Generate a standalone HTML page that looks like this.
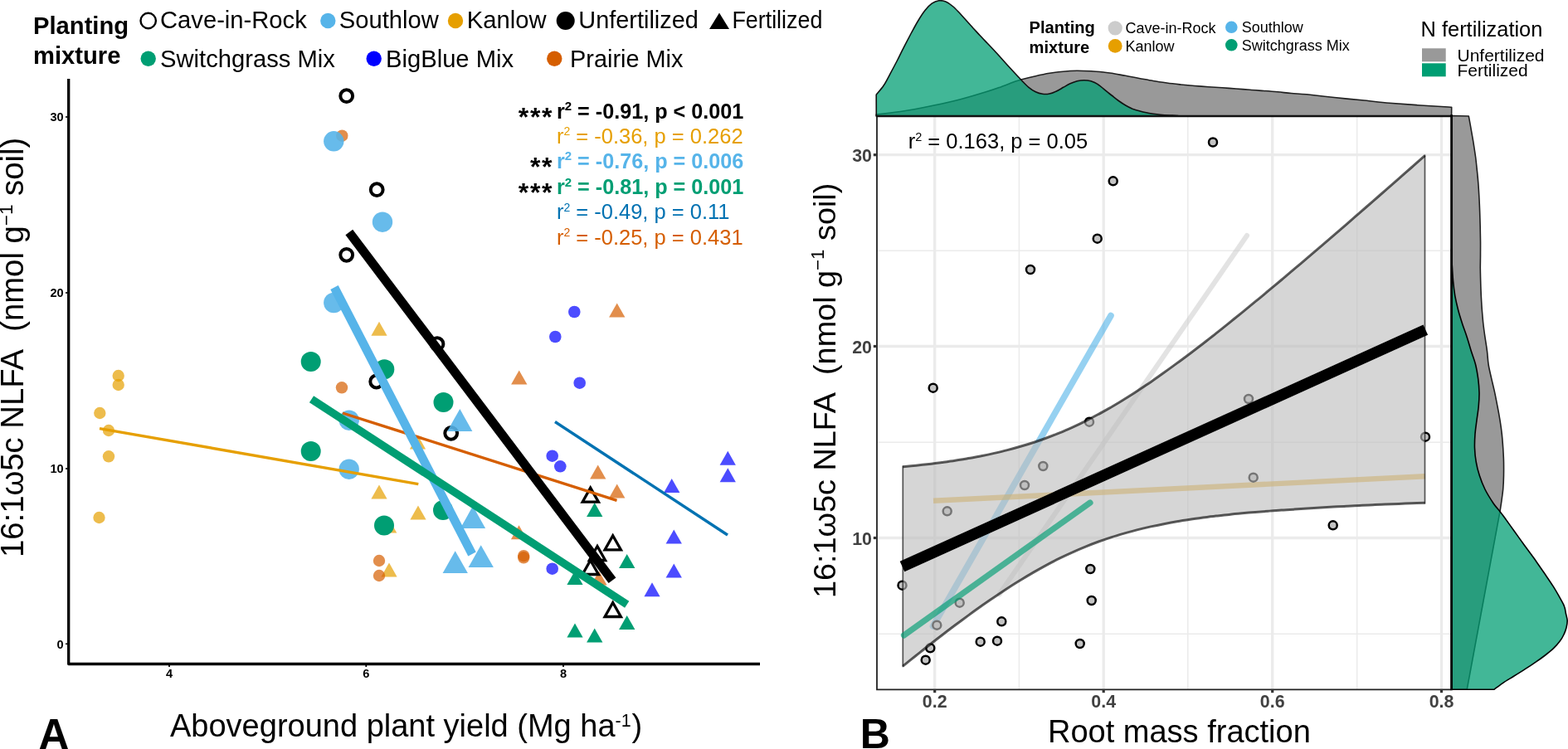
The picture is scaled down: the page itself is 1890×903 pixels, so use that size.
<!DOCTYPE html>
<html lang="en"><head><meta charset="utf-8"><title>Figure</title>
<style>html,body{margin:0;padding:0;background:#fff}svg{display:block}text{font-family:"Liberation Sans",sans-serif}</style>
</head><body>
<svg width="1890" height="903" viewBox="0 0 1890 903" role="img" aria-label="Scatter plots of 16:1ω5c NLFA against aboveground plant yield and root mass fraction">
<rect width="1890" height="903" fill="#fff"/>
<g id="panelA">
<text x="40" y="40.8" font-size="29.2" font-weight="bold">Planting</text>
<text x="40" y="76.6" font-size="29.2" font-weight="bold">mixture</text>
<circle cx="178.7" cy="25.0" r="9.2" fill="none" stroke="#000" stroke-width="2.4"/>
<text x="193" y="34" font-size="29.2">Cave-in-Rock</text>
<circle cx="395.3" cy="25.0" r="9.2" fill="#56B4E9"/>
<text x="408.8" y="34" font-size="29.2">Southlow</text>
<circle cx="549.0" cy="25.0" r="9.2" fill="#E69F00"/>
<text x="562.8" y="34" font-size="29.2">Kanlow</text>
<circle cx="681.7" cy="25.0" r="11" fill="#000"/>
<text x="697.3" y="34" font-size="28.9">Unfertilized</text>
<polygon points="855,35 867,15.5 879,35" fill="#000"/>
<text x="882.4" y="34" font-size="29" textLength="109" lengthAdjust="spacingAndGlyphs">Fertilized</text>
<circle cx="178.7" cy="70.7" r="9.2" fill="#009E73"/>
<text x="193" y="80.7" font-size="29.2">Switchgrass Mix</text>
<circle cx="450.7" cy="70.7" r="9.2" fill="#0000FF"/>
<text x="465" y="80.7" font-size="29.2">BigBlue Mix</text>
<circle cx="668.3" cy="70.7" r="9.2" fill="#D55E00"/>
<text x="687" y="80.7" font-size="28.9">Prairie Mix</text>
<circle cx="142.7" cy="453.0" r="7.2" fill="#E69F00" fill-opacity="0.7"/>
<circle cx="142.7" cy="464.0" r="7.2" fill="#E69F00" fill-opacity="0.7"/>
<circle cx="120.3" cy="498.0" r="7.2" fill="#E69F00" fill-opacity="0.7"/>
<circle cx="131.0" cy="519.0" r="7.2" fill="#E69F00" fill-opacity="0.7"/>
<circle cx="131.0" cy="550.3" r="7.2" fill="#E69F00" fill-opacity="0.7"/>
<circle cx="119.5" cy="624.0" r="7.2" fill="#E69F00" fill-opacity="0.7"/>
<polygon points="447.4,404.7 457.0,387.7 466.6,404.7" fill="#E69F00" fill-opacity="0.7"/>
<polygon points="493.9,541.5 503.5,524.5 513.1,541.5" fill="#E69F00" fill-opacity="0.7"/>
<polygon points="447.4,601.5 457.0,584.5 466.6,601.5" fill="#E69F00" fill-opacity="0.7"/>
<polygon points="494.4,626.5 504.0,609.5 513.6,626.5" fill="#E69F00" fill-opacity="0.7"/>
<polygon points="459.1,642.5 468.7,625.5 478.3,642.5" fill="#E69F00" fill-opacity="0.7"/>
<polygon points="459.4,695.5 469.0,678.5 478.6,695.5" fill="#E69F00" fill-opacity="0.7"/>
<circle cx="412.3" cy="163.7" r="7.2" fill="#D55E00" fill-opacity="0.7"/>
<circle cx="412.0" cy="467.3" r="7.2" fill="#D55E00" fill-opacity="0.7"/>
<circle cx="457.0" cy="676.0" r="7.2" fill="#D55E00" fill-opacity="0.7"/>
<circle cx="457.0" cy="694.0" r="7.2" fill="#D55E00" fill-opacity="0.7"/>
<circle cx="631.2" cy="670.1" r="7.2" fill="#D55E00" fill-opacity="0.7"/>
<circle cx="631.2" cy="672.3" r="7.2" fill="#D55E00" fill-opacity="0.7"/>
<polygon points="734.1,382.4 743.7,365.4 753.4,382.4" fill="#D55E00" fill-opacity="0.7"/>
<polygon points="616.1,463.4 625.7,446.4 635.4,463.4" fill="#D55E00" fill-opacity="0.7"/>
<polygon points="711.1,577.5 720.7,560.5 730.4,577.5" fill="#D55E00" fill-opacity="0.7"/>
<polygon points="734.1,600.5 743.7,583.5 753.4,600.5" fill="#D55E00" fill-opacity="0.7"/>
<polygon points="615.9,650.2 625.5,633.2 635.1,650.2" fill="#D55E00" fill-opacity="0.7"/>
<polygon points="712.4,705.5 722.0,688.5 731.6,705.5" fill="#D55E00" fill-opacity="0.7"/>
<circle cx="692.3" cy="376.0" r="7.3" fill="#0000FF" fill-opacity="0.7"/>
<circle cx="669.3" cy="406.0" r="7.3" fill="#0000FF" fill-opacity="0.7"/>
<circle cx="698.7" cy="461.7" r="7.3" fill="#0000FF" fill-opacity="0.7"/>
<circle cx="665.7" cy="549.7" r="7.3" fill="#0000FF" fill-opacity="0.7"/>
<circle cx="675.3" cy="562.3" r="7.3" fill="#0000FF" fill-opacity="0.7"/>
<circle cx="665.7" cy="685.7" r="7.3" fill="#0000FF" fill-opacity="0.7"/>
<polygon points="867.6,560.8 877.3,543.8 886.9,560.8" fill="#0000FF" fill-opacity="0.7"/>
<polygon points="867.6,581.2 877.3,564.2 886.9,581.2" fill="#0000FF" fill-opacity="0.7"/>
<polygon points="800.1,594.0 809.7,577.0 819.4,594.0" fill="#0000FF" fill-opacity="0.7"/>
<polygon points="802.6,655.5 812.3,638.5 821.9,655.5" fill="#0000FF" fill-opacity="0.7"/>
<polygon points="802.6,696.5 812.3,679.5 821.9,696.5" fill="#0000FF" fill-opacity="0.7"/>
<polygon points="776.4,719.2 786.0,702.2 795.6,719.2" fill="#0000FF" fill-opacity="0.7"/>
<circle cx="417.7" cy="115.7" r="7.4" fill="none" stroke="#000" stroke-width="4"/>
<circle cx="454.2" cy="228.7" r="7.4" fill="none" stroke="#000" stroke-width="4"/>
<circle cx="417.7" cy="307.3" r="7.4" fill="none" stroke="#000" stroke-width="4"/>
<circle cx="527.0" cy="414.7" r="7.4" fill="none" stroke="#000" stroke-width="4"/>
<circle cx="453.7" cy="460.0" r="7.4" fill="none" stroke="#000" stroke-width="4"/>
<circle cx="543.7" cy="522.3" r="7.4" fill="none" stroke="#000" stroke-width="4"/>
<circle cx="402.3" cy="170.3" r="12.2" fill="#56B4E9" fill-opacity="0.9"/>
<circle cx="461.0" cy="267.7" r="12.2" fill="#56B4E9" fill-opacity="0.9"/>
<circle cx="402.3" cy="365.0" r="12.2" fill="#56B4E9" fill-opacity="0.9"/>
<circle cx="420.7" cy="506.7" r="12.2" fill="#56B4E9" fill-opacity="0.9"/>
<circle cx="420.7" cy="565.7" r="12.2" fill="#56B4E9" fill-opacity="0.9"/>
<polygon points="539.1,519.9 554.3,493.1 569.4,519.9" fill="#56B4E9" fill-opacity="0.9"/>
<polygon points="554.9,636.9 570.0,610.1 585.1,636.9" fill="#56B4E9" fill-opacity="0.9"/>
<polygon points="533.6,691.1 548.7,664.3 563.9,691.1" fill="#56B4E9" fill-opacity="0.9"/>
<polygon points="564.6,684.1 579.7,657.3 594.9,684.1" fill="#56B4E9" fill-opacity="0.9"/>
<circle cx="374.7" cy="436.0" r="12" fill="#009E73"/>
<circle cx="463.3" cy="445.3" r="12" fill="#009E73"/>
<circle cx="534.5" cy="485.0" r="12" fill="#009E73"/>
<circle cx="374.7" cy="544.0" r="12" fill="#009E73"/>
<circle cx="463.0" cy="633.6" r="12" fill="#009E73"/>
<circle cx="534.0" cy="615.0" r="12" fill="#009E73"/>
<polygon points="707.1,623.1 716.7,606.1 726.4,623.1" fill="#009E73"/>
<polygon points="746.1,685.0 755.7,668.0 765.4,685.0" fill="#009E73"/>
<polygon points="683.4,705.0 693.0,688.0 702.6,705.0" fill="#009E73"/>
<polygon points="746.1,758.9 755.7,741.9 765.4,758.9" fill="#009E73"/>
<polygon points="683.4,768.5 693.0,751.5 702.6,768.5" fill="#009E73"/>
<polygon points="707.1,774.5 716.7,757.5 726.4,774.5" fill="#009E73"/>
<polygon points="702.1,605.2 711.7,588.2 721.4,605.2" fill="none" stroke="#000" stroke-width="3.3"/>
<polygon points="729.1,662.8 738.7,645.8 748.4,662.8" fill="none" stroke="#000" stroke-width="3.3"/>
<polygon points="710.4,675.5 720.0,658.5 729.6,675.5" fill="none" stroke="#000" stroke-width="3.3"/>
<polygon points="702.1,692.5 711.7,675.5 721.4,692.5" fill="none" stroke="#000" stroke-width="3.3"/>
<polygon points="729.1,743.5 738.7,726.5 748.4,743.5" fill="none" stroke="#000" stroke-width="3.3"/>
<line x1="120" y1="516.6" x2="504.3" y2="583.6" stroke="#E69F00" stroke-width="3.4"/>
<line x1="413" y1="498" x2="743.5" y2="603.3" stroke="#D55E00" stroke-width="3.4"/>
<line x1="669" y1="508.5" x2="877" y2="645" stroke="#0072B2" stroke-width="3.4"/>
<line x1="403" y1="346.5" x2="569" y2="668" stroke="#56B4E9" stroke-width="10.6"/>
<line x1="375.5" y1="481.2" x2="755.7" y2="728.7" stroke="#009E73" stroke-width="9.5"/>
<line x1="420.8" y1="280" x2="738" y2="699.8" stroke="#000" stroke-width="11"/>
<path d="M82.7,95 V800.5 H916" fill="none" stroke="#000" stroke-width="3.3" stroke-linejoin="round"/>
<line x1="79" y1="141" x2="82" y2="141" stroke="#000" stroke-width="1.6"/>
<text x="76.7" y="146.3" font-size="14.6" font-weight="bold" text-anchor="end">30</text>
<line x1="79" y1="353" x2="82" y2="353" stroke="#000" stroke-width="1.6"/>
<text x="76.7" y="358.3" font-size="14.6" font-weight="bold" text-anchor="end">20</text>
<line x1="79" y1="565" x2="82" y2="565" stroke="#000" stroke-width="1.6"/>
<text x="76.7" y="570.3" font-size="14.6" font-weight="bold" text-anchor="end">10</text>
<line x1="79" y1="776.3" x2="82" y2="776.3" stroke="#000" stroke-width="1.6"/>
<text x="76.7" y="781.5999999999999" font-size="14.6" font-weight="bold" text-anchor="end">0</text>
<line x1="204" y1="801" x2="204" y2="804" stroke="#000" stroke-width="1.8"/>
<text x="204" y="817" font-size="14.6" font-weight="bold" text-anchor="middle">4</text>
<line x1="441.3" y1="801" x2="441.3" y2="804" stroke="#000" stroke-width="1.8"/>
<text x="441.3" y="817" font-size="14.6" font-weight="bold" text-anchor="middle">6</text>
<line x1="679" y1="801" x2="679" y2="804" stroke="#000" stroke-width="1.8"/>
<text x="679" y="817" font-size="14.6" font-weight="bold" text-anchor="middle">8</text>
<text x="667" y="151.89999999999998" font-size="32" font-weight="bold" text-anchor="end" letter-spacing="1.6">***</text>
<text x="670.9" y="142.7" font-size="25.2" font-weight="bold" fill="#000">r<tspan font-size="15" dy="-9.5">2</tspan><tspan dy="9.5"> = -0.91, p &lt; 0.001</tspan></text>
<text x="670.9" y="172.7" font-size="25.5" fill="#E69F00">r<tspan font-size="14" dy="-9.5">2</tspan><tspan dy="9.5"> = -0.36, p = 0.262</tspan></text>
<text x="667" y="211.89999999999998" font-size="32" font-weight="bold" text-anchor="end" letter-spacing="1.6">**</text>
<text x="670.9" y="202.7" font-size="25.2" font-weight="bold" fill="#56B4E9">r<tspan font-size="15" dy="-9.5">2</tspan><tspan dy="9.5"> = -0.76, p = 0.006</tspan></text>
<text x="667" y="243.2" font-size="32" font-weight="bold" text-anchor="end" letter-spacing="1.6">***</text>
<text x="670.9" y="234" font-size="25.2" font-weight="bold" fill="#009E73">r<tspan font-size="15" dy="-9.5">2</tspan><tspan dy="9.5"> = -0.81, p = 0.001</tspan></text>
<text x="670.9" y="264.3" font-size="25.5" fill="#0072B2">r<tspan font-size="14" dy="-9.5">2</tspan><tspan dy="9.5"> = -0.49, p = 0.11</tspan></text>
<text x="670.9" y="294.7" font-size="25.5" fill="#D55E00">r<tspan font-size="14" dy="-9.5">2</tspan><tspan dy="9.5"> = -0.25, p = 0.431</tspan></text>
<text transform="translate(28.2,672) rotate(-90)" font-size="38.25">16:1ω5c NLFA&#160;&#160;(nmol g<tspan font-size="22.5" dy="-13.3">−1</tspan><tspan dy="13.3"> soil)</tspan></text>
<text x="205" y="888" font-size="38">Aboveground plant yield (Mg ha<tspan font-size="21.5" dy="-12.5">-1</tspan><tspan dy="12.5" dx="0.8">)</tspan></text>
<text x="46.5" y="902.6" font-size="51" font-weight="bold">A</text>
</g>
<g id="panelB">
<line x1="1057" y1="302.3" x2="1749.3" y2="302.3" stroke="#ebebeb" stroke-width="1.5"/>
<line x1="1057" y1="533.3" x2="1749.3" y2="533.3" stroke="#ebebeb" stroke-width="1.5"/>
<line x1="1057" y1="764.2" x2="1749.3" y2="764.2" stroke="#ebebeb" stroke-width="1.5"/>
<line x1="1228.4" y1="140" x2="1228.4" y2="831.3" stroke="#ebebeb" stroke-width="1.5"/>
<line x1="1431.8" y1="140" x2="1431.8" y2="831.3" stroke="#ebebeb" stroke-width="1.5"/>
<line x1="1635.7" y1="140" x2="1635.7" y2="831.3" stroke="#ebebeb" stroke-width="1.5"/>
<line x1="1057" y1="186.7" x2="1749.3" y2="186.7" stroke="#ebebeb" stroke-width="3.3"/>
<line x1="1057" y1="417.5" x2="1749.3" y2="417.5" stroke="#ebebeb" stroke-width="3.3"/>
<line x1="1057" y1="648.5" x2="1749.3" y2="648.5" stroke="#ebebeb" stroke-width="3.3"/>
<line x1="1126.7" y1="140" x2="1126.7" y2="831.3" stroke="#ebebeb" stroke-width="3.3"/>
<line x1="1330.2" y1="140" x2="1330.2" y2="831.3" stroke="#ebebeb" stroke-width="3.3"/>
<line x1="1533.7" y1="140" x2="1533.7" y2="831.3" stroke="#ebebeb" stroke-width="3.3"/>
<line x1="1737.5" y1="140" x2="1737.5" y2="831.3" stroke="#ebebeb" stroke-width="3.3"/>
<line x1="1124.5" y1="755" x2="1339" y2="380.5" stroke="#56B4E9" stroke-opacity="0.62" stroke-width="7.6" stroke-linecap="round"/>
<line x1="1204.5" y1="716.5" x2="1503" y2="284" stroke="#c8c8c8" stroke-opacity="0.5" stroke-width="6" stroke-linecap="round"/>
<line x1="1125" y1="603.8" x2="1717.5" y2="574.2" stroke="#E69F00" stroke-opacity="0.6" stroke-width="6.4"/>
<circle cx="1462.0" cy="171.5" r="5" fill="#c4c4c4" stroke="#000" stroke-width="2.5"/>
<circle cx="1341.7" cy="218.3" r="5" fill="#c4c4c4" stroke="#000" stroke-width="2.5"/>
<circle cx="1322.7" cy="287.7" r="5" fill="#c4c4c4" stroke="#000" stroke-width="2.5"/>
<circle cx="1242.0" cy="325.0" r="5" fill="#c4c4c4" stroke="#000" stroke-width="2.5"/>
<circle cx="1124.7" cy="467.7" r="5" fill="#c4c4c4" stroke="#000" stroke-width="2.5"/>
<circle cx="1313.0" cy="508.7" r="5" fill="#c4c4c4" stroke="#000" stroke-width="2.5"/>
<circle cx="1505.0" cy="481.0" r="5" fill="#c4c4c4" stroke="#000" stroke-width="2.5"/>
<circle cx="1257.3" cy="562.0" r="5" fill="#c4c4c4" stroke="#000" stroke-width="2.5"/>
<circle cx="1235.0" cy="585.0" r="5" fill="#c4c4c4" stroke="#000" stroke-width="2.5"/>
<circle cx="1510.7" cy="575.7" r="5" fill="#c4c4c4" stroke="#000" stroke-width="2.5"/>
<circle cx="1718.0" cy="526.7" r="5" fill="#c4c4c4" stroke="#000" stroke-width="2.5"/>
<circle cx="1141.7" cy="616.3" r="5" fill="#c4c4c4" stroke="#000" stroke-width="2.5"/>
<circle cx="1087.5" cy="705.7" r="5" fill="#c4c4c4" stroke="#000" stroke-width="2.5"/>
<circle cx="1156.7" cy="726.7" r="5" fill="#c4c4c4" stroke="#000" stroke-width="2.5"/>
<circle cx="1129.3" cy="753.7" r="5" fill="#c4c4c4" stroke="#000" stroke-width="2.5"/>
<circle cx="1207.3" cy="749.3" r="5" fill="#c4c4c4" stroke="#000" stroke-width="2.5"/>
<circle cx="1181.7" cy="773.7" r="5" fill="#c4c4c4" stroke="#000" stroke-width="2.5"/>
<circle cx="1202.0" cy="772.7" r="5" fill="#c4c4c4" stroke="#000" stroke-width="2.5"/>
<circle cx="1121.3" cy="781.3" r="5" fill="#c4c4c4" stroke="#000" stroke-width="2.5"/>
<circle cx="1115.7" cy="795.7" r="5" fill="#c4c4c4" stroke="#000" stroke-width="2.5"/>
<circle cx="1301.7" cy="776.0" r="5" fill="#c4c4c4" stroke="#000" stroke-width="2.5"/>
<circle cx="1314.3" cy="686.0" r="5" fill="#c4c4c4" stroke="#000" stroke-width="2.5"/>
<circle cx="1315.7" cy="724.0" r="5" fill="#c4c4c4" stroke="#000" stroke-width="2.5"/>
<circle cx="1606.7" cy="633.3" r="5" fill="#c4c4c4" stroke="#000" stroke-width="2.5"/>
<path d="M1088.3,562.7 C1090.9,562.5 1098.8,561.7 1104.0,561.2 C1109.3,560.6 1114.5,560.0 1119.8,559.4 C1125.0,558.8 1130.2,558.1 1135.5,557.4 C1140.7,556.7 1146.0,556.0 1151.2,555.2 C1156.5,554.4 1161.7,553.5 1167.0,552.6 C1172.2,551.7 1177.4,550.7 1182.7,549.7 C1187.9,548.7 1193.2,547.6 1198.4,546.4 C1203.7,545.2 1208.9,544.0 1214.1,542.6 C1219.4,541.3 1224.6,539.9 1229.9,538.3 C1235.1,536.8 1240.4,535.2 1245.6,533.5 C1250.8,531.8 1256.1,530.0 1261.3,528.0 C1266.6,526.1 1271.8,524.1 1277.1,521.9 C1282.3,519.8 1287.5,517.5 1292.8,515.1 C1298.0,512.7 1303.3,510.2 1308.5,507.6 C1313.8,504.9 1319.0,502.2 1324.2,499.3 C1329.5,496.5 1334.7,493.5 1340.0,490.5 C1345.2,487.4 1350.5,484.2 1355.7,481.0 C1361.0,477.7 1366.2,474.4 1371.4,470.9 C1376.7,467.5 1381.9,463.9 1387.2,460.4 C1392.4,456.8 1397.7,453.1 1402.9,449.3 C1408.1,445.6 1413.4,441.8 1418.6,437.9 C1423.9,434.1 1429.1,430.2 1434.4,426.2 C1439.6,422.2 1444.8,418.2 1450.1,414.2 C1455.3,410.1 1460.6,406.0 1465.8,401.8 C1471.1,397.7 1476.3,393.5 1481.5,389.3 C1486.8,385.1 1492.0,380.9 1497.3,376.6 C1502.5,372.3 1507.8,368.0 1513.0,363.7 C1518.3,359.4 1523.5,355.0 1528.7,350.7 C1534.0,346.3 1539.2,341.9 1544.5,337.5 C1549.7,333.1 1555.0,328.7 1560.2,324.2 C1565.4,319.8 1570.7,315.3 1575.9,310.9 C1581.2,306.4 1586.4,301.9 1591.7,297.4 C1596.9,292.9 1602.1,288.4 1607.4,283.9 C1612.6,279.4 1617.9,274.8 1623.1,270.3 C1628.4,265.7 1633.6,261.2 1638.8,256.6 C1644.1,252.0 1649.3,247.5 1654.6,242.9 C1659.8,238.3 1665.1,233.7 1670.3,229.1 C1675.6,224.5 1680.8,219.9 1686.0,215.3 C1691.3,210.7 1696.5,206.1 1701.8,201.5 C1707.0,196.8 1714.9,189.9 1717.5,187.6 L1717.5,606.2663652671756 C1714.9,606.4 1707.0,606.6 1701.8,606.8 C1696.5,607.0 1691.3,607.2 1686.0,607.4 C1680.8,607.6 1675.6,607.9 1670.3,608.1 C1665.1,608.3 1659.8,608.5 1654.6,608.8 C1649.3,609.0 1644.1,609.2 1638.8,609.5 C1633.6,609.7 1628.4,610.0 1623.1,610.3 C1617.9,610.5 1612.6,610.8 1607.4,611.1 C1602.1,611.4 1596.9,611.7 1591.7,612.0 C1586.4,612.3 1581.2,612.7 1575.9,613.0 C1570.7,613.4 1565.4,613.7 1560.2,614.1 C1555.0,614.4 1549.7,614.7 1544.5,615.1 C1539.2,615.4 1534.0,615.8 1528.7,616.2 C1523.5,616.6 1518.3,617.0 1513.0,617.4 C1507.8,617.9 1502.5,618.3 1497.3,618.8 C1492.0,619.3 1486.8,619.8 1481.5,620.4 C1476.3,620.9 1471.1,621.5 1465.8,622.1 C1460.6,622.7 1455.3,623.4 1450.1,624.1 C1444.8,624.8 1439.6,625.5 1434.4,626.3 C1429.1,627.1 1423.9,627.9 1418.6,628.8 C1413.4,629.7 1408.1,630.7 1402.9,631.7 C1397.7,632.7 1392.4,633.8 1387.2,634.9 C1381.9,636.1 1376.7,637.3 1371.4,638.6 C1366.2,640.0 1361.0,641.4 1355.7,642.9 C1350.5,644.4 1345.2,645.9 1340.0,647.6 C1334.7,649.3 1329.5,651.1 1324.2,653.0 C1319.0,654.9 1313.8,656.9 1308.5,659.1 C1303.3,661.2 1298.0,663.4 1292.8,665.8 C1287.5,668.1 1282.3,670.6 1277.1,673.2 C1271.8,675.8 1266.6,678.5 1261.3,681.3 C1256.1,684.1 1250.8,687.1 1245.6,690.1 C1240.4,693.1 1235.1,696.3 1229.9,699.5 C1224.6,702.7 1219.4,706.0 1214.1,709.4 C1208.9,712.8 1203.7,716.3 1198.4,719.9 C1193.2,723.5 1187.9,727.1 1182.7,730.8 C1177.4,734.5 1172.2,738.3 1167.0,742.1 C1161.7,746.0 1156.5,749.9 1151.2,753.8 C1146.0,757.7 1140.7,761.7 1135.5,765.8 C1130.2,769.8 1125.0,773.9 1119.8,778.0 C1114.5,782.1 1109.3,786.3 1104.0,790.5 C1098.8,794.7 1090.9,801.0 1088.3,803.1 Z" fill="#bdbdbd" fill-opacity="0.62" stroke="none"/>
<path d="M1088.3,561.5 V804.3 M1717.5,186.4 V607.5" fill="none" stroke="#000" stroke-opacity="0.64" stroke-width="1.7"/>
<path d="M1088.3,562.7 C1090.9,562.5 1098.8,561.7 1104.0,561.2 C1109.3,560.6 1114.5,560.0 1119.8,559.4 C1125.0,558.8 1130.2,558.1 1135.5,557.4 C1140.7,556.7 1146.0,556.0 1151.2,555.2 C1156.5,554.4 1161.7,553.5 1167.0,552.6 C1172.2,551.7 1177.4,550.7 1182.7,549.7 C1187.9,548.7 1193.2,547.6 1198.4,546.4 C1203.7,545.2 1208.9,544.0 1214.1,542.6 C1219.4,541.3 1224.6,539.9 1229.9,538.3 C1235.1,536.8 1240.4,535.2 1245.6,533.5 C1250.8,531.8 1256.1,530.0 1261.3,528.0 C1266.6,526.1 1271.8,524.1 1277.1,521.9 C1282.3,519.8 1287.5,517.5 1292.8,515.1 C1298.0,512.7 1303.3,510.2 1308.5,507.6 C1313.8,504.9 1319.0,502.2 1324.2,499.3 C1329.5,496.5 1334.7,493.5 1340.0,490.5 C1345.2,487.4 1350.5,484.2 1355.7,481.0 C1361.0,477.7 1366.2,474.4 1371.4,470.9 C1376.7,467.5 1381.9,463.9 1387.2,460.4 C1392.4,456.8 1397.7,453.1 1402.9,449.3 C1408.1,445.6 1413.4,441.8 1418.6,437.9 C1423.9,434.1 1429.1,430.2 1434.4,426.2 C1439.6,422.2 1444.8,418.2 1450.1,414.2 C1455.3,410.1 1460.6,406.0 1465.8,401.8 C1471.1,397.7 1476.3,393.5 1481.5,389.3 C1486.8,385.1 1492.0,380.9 1497.3,376.6 C1502.5,372.3 1507.8,368.0 1513.0,363.7 C1518.3,359.4 1523.5,355.0 1528.7,350.7 C1534.0,346.3 1539.2,341.9 1544.5,337.5 C1549.7,333.1 1555.0,328.7 1560.2,324.2 C1565.4,319.8 1570.7,315.3 1575.9,310.9 C1581.2,306.4 1586.4,301.9 1591.7,297.4 C1596.9,292.9 1602.1,288.4 1607.4,283.9 C1612.6,279.4 1617.9,274.8 1623.1,270.3 C1628.4,265.7 1633.6,261.2 1638.8,256.6 C1644.1,252.0 1649.3,247.5 1654.6,242.9 C1659.8,238.3 1665.1,233.7 1670.3,229.1 C1675.6,224.5 1680.8,219.9 1686.0,215.3 C1691.3,210.7 1696.5,206.1 1701.8,201.5 C1707.0,196.8 1714.9,189.9 1717.5,187.6" fill="none" stroke="#000" stroke-opacity="0.64" stroke-width="3" stroke-linecap="butt"/>
<path d="M1717.5,606.3 C1714.9,606.4 1707.0,606.6 1701.8,606.8 C1696.5,607.0 1691.3,607.2 1686.0,607.4 C1680.8,607.6 1675.6,607.9 1670.3,608.1 C1665.1,608.3 1659.8,608.5 1654.6,608.8 C1649.3,609.0 1644.1,609.2 1638.8,609.5 C1633.6,609.7 1628.4,610.0 1623.1,610.3 C1617.9,610.5 1612.6,610.8 1607.4,611.1 C1602.1,611.4 1596.9,611.7 1591.7,612.0 C1586.4,612.3 1581.2,612.7 1575.9,613.0 C1570.7,613.4 1565.4,613.7 1560.2,614.1 C1555.0,614.4 1549.7,614.7 1544.5,615.1 C1539.2,615.4 1534.0,615.8 1528.7,616.2 C1523.5,616.6 1518.3,617.0 1513.0,617.4 C1507.8,617.9 1502.5,618.3 1497.3,618.8 C1492.0,619.3 1486.8,619.8 1481.5,620.4 C1476.3,620.9 1471.1,621.5 1465.8,622.1 C1460.6,622.7 1455.3,623.4 1450.1,624.1 C1444.8,624.8 1439.6,625.5 1434.4,626.3 C1429.1,627.1 1423.9,627.9 1418.6,628.8 C1413.4,629.7 1408.1,630.7 1402.9,631.7 C1397.7,632.7 1392.4,633.8 1387.2,634.9 C1381.9,636.1 1376.7,637.3 1371.4,638.6 C1366.2,640.0 1361.0,641.4 1355.7,642.9 C1350.5,644.4 1345.2,645.9 1340.0,647.6 C1334.7,649.3 1329.5,651.1 1324.2,653.0 C1319.0,654.9 1313.8,656.9 1308.5,659.1 C1303.3,661.2 1298.0,663.4 1292.8,665.8 C1287.5,668.1 1282.3,670.6 1277.1,673.2 C1271.8,675.8 1266.6,678.5 1261.3,681.3 C1256.1,684.1 1250.8,687.1 1245.6,690.1 C1240.4,693.1 1235.1,696.3 1229.9,699.5 C1224.6,702.7 1219.4,706.0 1214.1,709.4 C1208.9,712.8 1203.7,716.3 1198.4,719.9 C1193.2,723.5 1187.9,727.1 1182.7,730.8 C1177.4,734.5 1172.2,738.3 1167.0,742.1 C1161.7,746.0 1156.5,749.9 1151.2,753.8 C1146.0,757.7 1140.7,761.7 1135.5,765.8 C1130.2,769.8 1125.0,773.9 1119.8,778.0 C1114.5,782.1 1109.3,786.3 1104.0,790.5 C1098.8,794.7 1090.9,801.0 1088.3,803.1" fill="none" stroke="#000" stroke-opacity="0.64" stroke-width="3" stroke-linecap="butt"/>
<line x1="1089.5" y1="766" x2="1314" y2="606" stroke="#009E73" stroke-opacity="0.66" stroke-width="7.2" stroke-linecap="round"/>
<line x1="1087.5" y1="683" x2="1718.3" y2="397.7" stroke="#000" stroke-width="13.5"/>
<path d="M1056.2,138.0 C1061.8,137.3 1078.8,135.6 1090.0,133.8 C1101.2,132.1 1112.2,129.8 1123.3,127.5 C1134.4,125.2 1145.6,122.9 1156.7,120.0 C1167.8,117.1 1181.7,112.9 1190.0,110.3 C1198.3,107.8 1201.1,106.7 1206.7,104.7 C1212.2,102.7 1219.2,99.8 1223.3,98.3 C1227.5,96.9 1227.5,96.9 1231.7,95.8 C1235.8,94.7 1242.8,92.9 1248.3,91.7 C1253.9,90.4 1259.4,89.2 1265.0,88.3 C1270.6,87.4 1276.1,86.7 1281.7,86.2 C1287.2,85.7 1292.8,85.4 1298.3,85.3 C1303.9,85.3 1309.4,85.5 1315.0,85.8 C1320.6,86.1 1327.5,86.8 1331.7,87.2 C1335.8,87.6 1335.8,87.6 1340.0,88.3 C1344.2,89.0 1351.1,90.3 1356.7,91.3 C1362.2,92.4 1367.8,93.5 1373.3,94.5 C1378.9,95.5 1384.4,96.6 1390.0,97.5 C1395.6,98.4 1401.1,99.2 1406.7,100.0 C1412.2,100.8 1417.8,101.4 1423.3,102.0 C1428.9,102.6 1434.4,103.1 1440.0,103.5 C1445.6,103.9 1451.1,104.3 1456.7,104.7 C1462.2,105.1 1467.8,105.4 1473.3,105.8 C1478.9,106.2 1484.4,106.6 1490.0,107.0 C1495.6,107.4 1501.1,107.9 1506.7,108.3 C1512.2,108.8 1517.8,109.1 1523.3,109.5 C1528.9,109.9 1534.4,110.3 1540.0,110.8 C1545.6,111.3 1550.8,112.0 1556.7,112.5 C1562.5,113.0 1566.4,113.0 1575.0,113.8 C1583.6,114.7 1597.2,116.3 1608.3,117.5 C1619.4,118.7 1630.6,119.7 1641.7,120.8 C1652.8,121.9 1663.9,123.2 1675.0,124.2 C1686.1,125.1 1697.2,125.9 1708.3,126.7 C1719.4,127.4 1734.8,128.2 1741.7,128.7 C1748.6,129.1 1748.3,129.2 1749.7,129.3 L1749.6,140 L1056.3,140 Z" fill="#999" stroke="#1f1f1f" stroke-width="1.6" stroke-linejoin="round"/>
<path d="M1056.3,140 L1056.2,114.2 C1057.6,112.4 1062.1,107.6 1065.0,103.3 C1067.9,99.0 1070.6,93.5 1073.3,88.3 C1076.1,83.2 1078.9,77.9 1081.7,72.5 C1084.4,67.1 1087.2,61.2 1090.0,55.8 C1092.8,50.4 1095.6,45.1 1098.3,40.0 C1101.1,34.9 1103.9,29.6 1106.7,25.0 C1109.4,20.4 1112.2,16.0 1115.0,12.5 C1117.8,9.0 1120.6,6.1 1123.3,4.2 C1126.1,2.2 1128.9,1.2 1131.7,0.8 C1134.4,0.5 1137.2,0.9 1140.0,2.0 C1142.8,3.1 1145.6,5.2 1148.3,7.5 C1151.1,9.8 1153.9,12.9 1156.7,15.8 C1159.4,18.8 1162.2,21.9 1165.0,25.0 C1167.8,28.1 1170.6,31.1 1173.3,34.2 C1176.1,37.2 1178.9,40.4 1181.7,43.3 C1184.4,46.3 1187.2,49.1 1190.0,52.0 C1192.8,54.9 1195.6,57.8 1198.3,60.8 C1201.1,63.8 1203.9,66.9 1206.7,70.0 C1209.4,73.1 1212.2,76.1 1215.0,79.2 C1217.8,82.2 1220.6,85.3 1223.3,88.3 C1226.1,91.3 1228.9,94.3 1231.7,97.2 C1234.4,100.0 1237.2,103.1 1240.0,105.3 C1242.8,107.6 1245.6,109.5 1248.3,110.8 C1251.1,112.2 1253.9,113.0 1256.7,113.3 C1259.4,113.7 1262.2,113.6 1265.0,113.0 C1267.8,112.4 1270.6,111.3 1273.3,110.0 C1276.1,108.7 1278.9,106.9 1281.7,105.3 C1284.4,103.8 1287.2,102.1 1290.0,100.8 C1292.8,99.6 1295.6,98.5 1298.3,97.8 C1301.1,97.1 1303.9,96.7 1306.7,96.7 C1309.4,96.7 1312.2,97.0 1315.0,97.8 C1317.8,98.7 1320.6,99.9 1323.3,101.7 C1326.1,103.4 1328.9,106.1 1331.7,108.3 C1334.4,110.6 1337.2,112.8 1340.0,115.0 C1342.8,117.2 1345.6,119.5 1348.3,121.5 C1351.1,123.5 1353.9,125.4 1356.7,127.0 C1359.4,128.6 1362.2,130.0 1365.0,131.2 C1367.8,132.3 1370.6,133.1 1373.3,133.8 C1376.1,134.6 1378.9,135.3 1381.7,135.8 C1384.4,136.4 1387.2,136.8 1390.0,137.2 C1392.8,137.6 1395.0,137.9 1398.3,138.2 C1401.7,138.5 1406.4,138.8 1410.0,139.0 C1413.6,139.2 1418.3,139.4 1420.0,139.5 L1056.3,140 Z" fill="#009E73" fill-opacity="0.74" stroke="#111" stroke-width="1.6" stroke-linejoin="round"/>
<path d="M1749.6,139.5 L1770.3,140.0 C1770.8,142.8 1772.4,151.1 1773.3,156.7 C1774.3,162.2 1775.3,167.8 1776.2,173.3 C1777.1,178.9 1777.9,184.4 1778.7,190.0 C1779.4,195.6 1779.9,201.1 1780.5,206.7 C1781.1,212.2 1781.6,217.8 1782.0,223.3 C1782.4,228.9 1782.7,234.4 1783.0,240.0 C1783.3,245.6 1783.5,251.1 1783.7,256.7 C1783.9,262.2 1784.0,267.8 1784.2,273.3 C1784.3,278.9 1784.4,284.4 1784.5,290.0 C1784.6,295.6 1784.5,301.1 1784.5,306.7 C1784.5,312.2 1784.3,317.8 1784.3,323.3 C1784.4,328.9 1784.5,334.4 1784.7,340.0 C1784.8,345.6 1785.1,351.1 1785.3,356.7 C1785.6,362.2 1785.9,367.8 1786.3,373.3 C1786.8,378.9 1787.2,384.4 1787.8,390.0 C1788.4,395.6 1789.2,401.1 1790.0,406.7 C1790.8,412.2 1791.8,417.8 1792.5,423.3 C1793.2,428.9 1793.3,434.4 1794.2,440.0 C1795.1,445.6 1796.6,451.1 1797.8,456.7 C1799.1,462.2 1800.5,467.8 1801.7,473.3 C1802.9,478.9 1803.9,484.4 1805.0,490.0 C1806.1,495.6 1807.1,501.1 1808.0,506.7 C1808.9,512.2 1809.7,517.8 1810.3,523.3 C1810.9,528.9 1811.3,534.4 1811.7,540.0 C1812.0,545.6 1812.4,551.1 1812.5,556.7 C1812.6,562.2 1812.6,567.8 1812.5,573.3 C1812.4,578.9 1812.1,585.0 1811.7,590.0 C1811.2,595.0 1810.6,598.9 1810.0,603.3 C1809.4,607.8 1808.3,614.4 1808.0,616.7 L1768.2,831.3 L1749.6,831.3 Z" fill="#999" stroke="#1f1f1f" stroke-width="1.6" stroke-linejoin="round"/>
<path d="M1749.6,300 L1749.7,311.7 C1749.8,313.6 1750.2,318.6 1750.5,323.3 C1750.8,328.1 1751.1,334.4 1751.7,340.0 C1752.2,345.6 1752.9,351.1 1753.8,356.7 C1754.8,362.2 1756.1,367.8 1757.5,373.3 C1758.9,378.9 1760.7,384.4 1762.5,390.0 C1764.3,395.6 1766.5,401.1 1768.3,406.7 C1770.1,412.2 1771.6,417.8 1773.3,423.3 C1775.1,428.9 1777.3,434.4 1778.7,440.0 C1780.1,445.6 1780.9,451.1 1781.7,456.7 C1782.4,462.2 1782.9,467.8 1783.0,473.3 C1783.1,478.9 1782.7,484.4 1782.2,490.0 C1781.7,495.6 1780.7,501.1 1780.0,506.7 C1779.3,512.2 1778.4,517.8 1778.0,523.3 C1777.6,528.9 1777.3,534.4 1777.5,540.0 C1777.7,545.6 1778.2,551.1 1779.2,556.7 C1780.1,562.2 1781.5,567.8 1783.3,573.3 C1785.1,578.9 1787.2,584.4 1790.0,590.0 C1792.8,595.6 1797.0,602.2 1800.0,606.7 C1803.0,611.1 1805.8,613.9 1808.0,616.7 C1810.2,619.4 1810.2,619.4 1813.0,623.3 C1815.8,627.2 1821.0,634.4 1825.0,640.0 C1829.0,645.6 1833.0,651.1 1837.0,656.7 C1841.0,662.2 1845.2,667.8 1849.2,673.3 C1853.1,678.9 1857.0,684.4 1860.8,690.0 C1864.6,695.6 1868.5,701.1 1872.0,706.7 C1875.5,712.2 1879.4,719.2 1881.7,723.3 C1884.0,727.5 1884.9,728.9 1885.8,731.7 C1886.8,734.4 1886.9,737.2 1887.5,740.0 C1888.1,742.8 1889.1,745.6 1889.2,748.3 C1889.2,751.1 1888.7,753.9 1888.0,756.7 C1887.3,759.4 1886.3,762.2 1885.0,765.0 C1883.7,767.8 1882.1,770.6 1880.0,773.3 C1877.9,776.1 1875.4,778.9 1872.5,781.7 C1869.6,784.4 1866.1,787.2 1862.5,790.0 C1858.9,792.8 1854.9,795.6 1850.8,798.3 C1846.8,801.1 1842.6,803.9 1838.3,806.7 C1834.0,809.4 1829.4,812.2 1825.0,815.0 C1820.6,817.8 1815.7,820.6 1811.7,823.3 C1807.6,826.1 1802.6,830.0 1800.8,831.3 L1749.6,831.3 Z" fill="#009E73" fill-opacity="0.74" stroke="#000" stroke-width="1.6" stroke-linejoin="round"/>
<path d="M1057,140 V831.3 H1749.3" fill="none" stroke="#222" stroke-width="1.8"/>
<path d="M1056.2,140.1 H1749.6" fill="none" stroke="#111" stroke-width="2.5"/>
<path d="M1749.6,138.3 V832.2" fill="none" stroke="#000" stroke-width="2.7"/>
<line x1="1052.8" y1="186.7" x2="1057" y2="186.7" stroke="#333" stroke-width="3.2"/>
<text x="1051" y="194.7" font-size="21.4" font-weight="bold" fill="#414141" text-anchor="end">30</text>
<line x1="1052.8" y1="417.5" x2="1057" y2="417.5" stroke="#333" stroke-width="3.2"/>
<text x="1051" y="425.5" font-size="21.4" font-weight="bold" fill="#414141" text-anchor="end">20</text>
<line x1="1052.8" y1="648.5" x2="1057" y2="648.5" stroke="#333" stroke-width="3.2"/>
<text x="1051" y="656.5" font-size="21.4" font-weight="bold" fill="#414141" text-anchor="end">10</text>
<line x1="1126.7" y1="831.3" x2="1126.7" y2="835.2" stroke="#333" stroke-width="3.2"/>
<text x="1126.7" y="852.8" font-size="21.4" font-weight="bold" fill="#414141" text-anchor="middle">0.2</text>
<line x1="1330.2" y1="831.3" x2="1330.2" y2="835.2" stroke="#333" stroke-width="3.2"/>
<text x="1330.2" y="852.8" font-size="21.4" font-weight="bold" fill="#414141" text-anchor="middle">0.4</text>
<line x1="1533.7" y1="831.3" x2="1533.7" y2="835.2" stroke="#333" stroke-width="3.2"/>
<text x="1533.7" y="852.8" font-size="21.4" font-weight="bold" fill="#414141" text-anchor="middle">0.6</text>
<line x1="1737.5" y1="831.3" x2="1737.5" y2="835.2" stroke="#333" stroke-width="3.2"/>
<text x="1737.5" y="852.8" font-size="21.4" font-weight="bold" fill="#414141" text-anchor="middle">0.8</text>
<text x="1094.7" y="179.3" font-size="25.5">r<tspan font-size="14.5" dy="-9.5">2</tspan><tspan dy="9.5"> = 0.163, p = 0.05</tspan></text>
<text x="1240.6" y="39.8" font-size="20.1" font-weight="bold">Planting</text>
<text x="1240.6" y="63.8" font-size="20.1" font-weight="bold">mixture</text>
<circle cx="1344.2" cy="33.8" r="8.6" fill="#ccc"/>
<text x="1356.5" y="40" font-size="18">Cave-in-Rock</text>
<circle cx="1344.2" cy="55.4" r="8.4" fill="#E69F00"/>
<text x="1356.5" y="62.3" font-size="18">Kanlow</text>
<circle cx="1484.3" cy="32.8" r="7.3" fill="#56B4E9"/>
<text x="1496.8" y="38.7" font-size="18">Southlow</text>
<circle cx="1484.3" cy="54.3" r="7.3" fill="#009E73"/>
<text x="1496.8" y="61.2" font-size="18">Switchgrass Mix</text>
<text x="1712.6" y="43.7" font-size="25.4">N fertilization</text>
<rect x="1714" y="58.3" width="28.7" height="16" fill="#999"/>
<rect x="1714" y="76.3" width="28.7" height="16" fill="#009E73"/>
<text x="1756.5" y="74" font-size="21">Unfertilized</text>
<text x="1756.5" y="91.7" font-size="21">Fertilized</text>
<text transform="translate(1006.6,721) rotate(-90)" font-size="37.8">16:1ω5c NLFA&#160;&#160;(nmol g<tspan font-size="22.3" dy="-13.2">−1</tspan><tspan dy="13.2"> soil)</tspan></text>
<text x="1263" y="895.1" font-size="38">Root mass fraction</text>
<text x="1036.8" y="901.6" font-size="50" font-weight="bold">B</text>
</g>
</svg></body></html>
